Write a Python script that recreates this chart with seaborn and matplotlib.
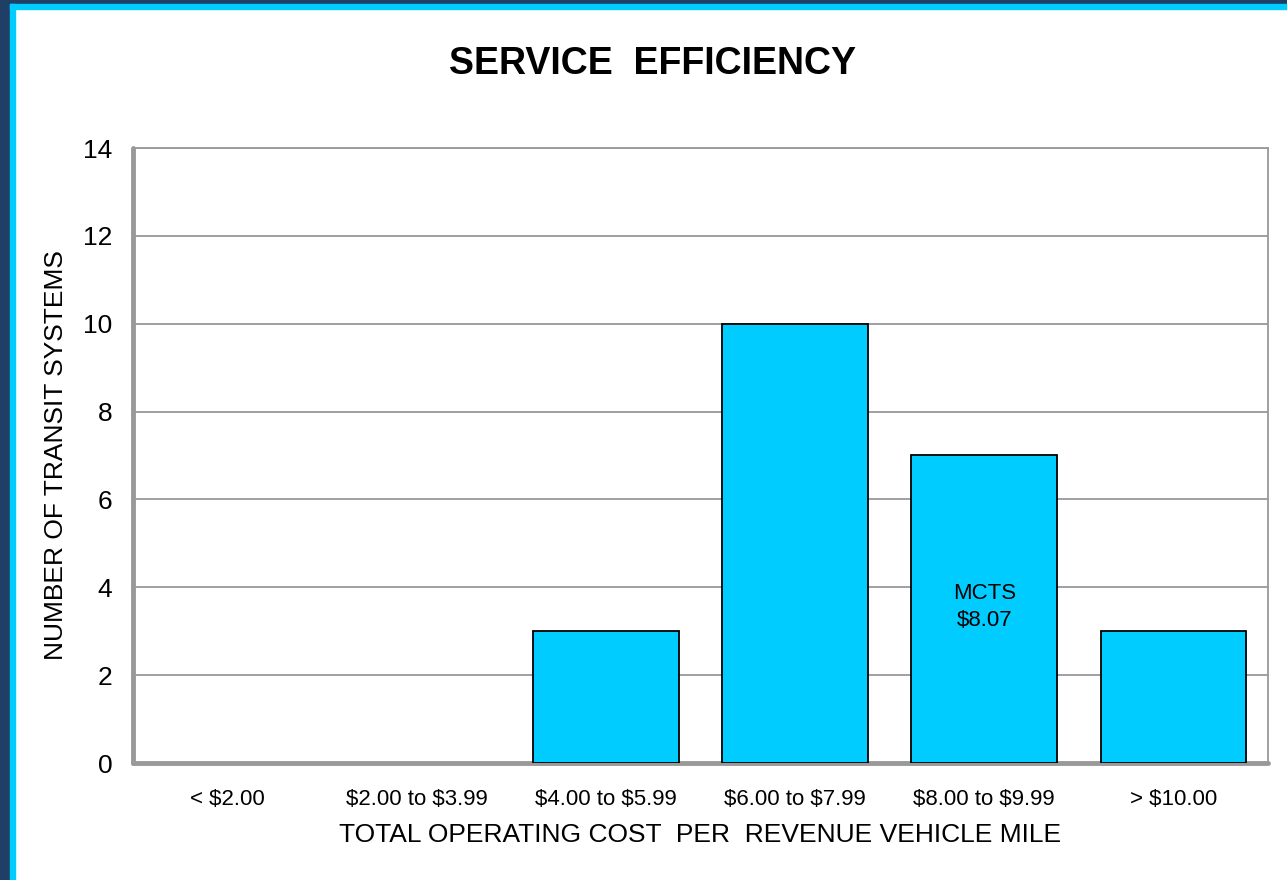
import matplotlib as mpl
mpl.use('Agg')
import matplotlib.pyplot as plt
from matplotlib.patches import Rectangle
import pandas as pd
import seaborn as sns

categories = ['< $2.00', '$2.00 to $3.99', '$4.00 to $5.99', '$6.00 to $7.99',
              '$8.00 to $9.99', '> $10.00']
systems = [0, 0, 3, 10, 7, 3]
yticks = [0, 2, 4, 6, 8, 10, 12, 14]
note_cat = '$8.00 to $9.99'
note_text = 'MCTS\n$8.07'


def save_graph():
    df = pd.DataFrame({'cost': categories, 'n': systems})

    sns.set_style('white')
    plt.rcParams['font.family'] = ['Liberation Sans', 'DejaVu Sans']
    plt.rcParams['text.parse_math'] = False
    plt.rcParams['text.color'] = 'black'
    plt.rcParams['axes.labelcolor'] = 'black'

    f = plt.figure(figsize=(12.87, 8.8), dpi=100)
    # slide frame: dark strip + cyan strip on left and top
    f.patches.append(Rectangle((0, 0), 10/1287, 1, transform=f.transFigure,
                               color='#1f3f66', zorder=0))
    f.patches.append(Rectangle((0, 1-4/880), 1, 4/880, transform=f.transFigure,
                               color='#1f3f66', zorder=0))
    f.patches.append(Rectangle((10/1287, 0), 5/1287, 1-4/880, transform=f.transFigure,
                               color='#00ccff', zorder=0))
    f.patches.append(Rectangle((10/1287, 1-9/880), 1, 5/880, transform=f.transFigure,
                               color='#00ccff', zorder=0))

    ax = f.add_axes([133/1287, 117/880, 1135/1287, 615/880])

    sns.barplot(data=df, x='cost', y='n', order=categories, color='#00ccff',
                saturation=1, width=0.77, edgecolor='black', linewidth=1.3,
                ax=ax, zorder=3)
    # empty classes: no outline
    for p in ax.patches:
        if p.get_height() == 0:
            p.set_linewidth(0)

    ax.set_ylim(0, 14)
    ax.set_xlim(-0.5, len(categories) - 0.5)
    ax.set_yticks(yticks)
    ax.yaxis.grid(True, color='#999999', linewidth=1.3, zorder=0)
    ax.set_axisbelow(True)

    for s in ['top', 'right']:
        ax.spines[s].set_color('#999999')
        ax.spines[s].set_linewidth(1.3)
    for s in ['left', 'bottom']:
        ax.spines[s].set_color('#999999')
        ax.spines[s].set_linewidth(3.5)
        ax.spines[s].set_capstyle('round')

    ax.tick_params(axis='y', length=0, pad=15, labelsize=19, colors='black')
    ax.tick_params(axis='x', length=0, pad=19, labelsize=16, colors='black')

    ax.set_xlabel('TOTAL OPERATING COST  PER  REVENUE VEHICLE MILE',
                  fontsize=19, labelpad=9)
    ax.set_ylabel('NUMBER OF TRANSIT SYSTEMS', fontsize=19, labelpad=11)

    xi = categories.index(note_cat)
    ax.text(xi, 3.55, note_text, ha='center', va='center', fontsize=16,
            linespacing=1.35, zorder=5)

    f.text(0.507, 0.927, 'SERVICE  EFFICIENCY', ha='center', va='center',
           fontsize=27, fontweight='bold', color='black')

    plt.savefig('out.png', dpi=100)


if __name__ == "__main__":
    save_graph()
